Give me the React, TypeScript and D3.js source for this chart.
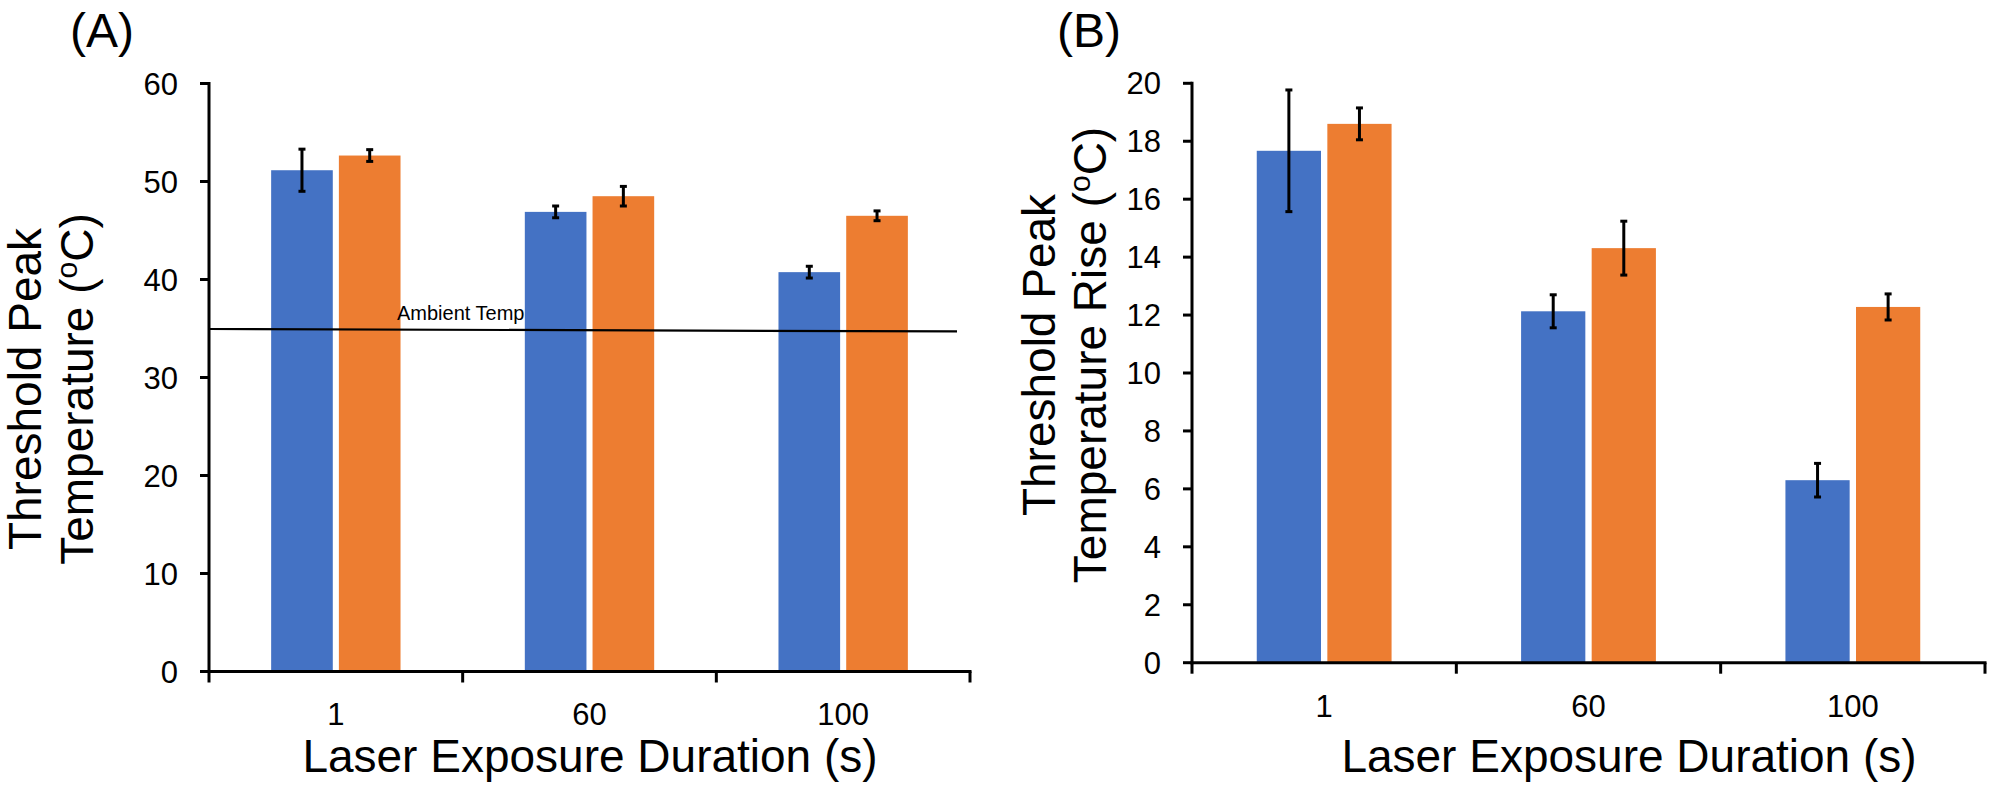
import React from "react";
import * as d3 from "d3";

// ---------- data ----------
const categories = ["1", "60", "100"];

const peakTempBlue = [51.15, 46.9, 40.75];
const peakTempBlueErr = [2.15, 0.6, 0.6];
const peakTempOrange = [52.65, 48.5, 46.5];
const peakTempOrangeErr = [0.6, 1.0, 0.5];
const ambientTemp = [34.95, 34.7]; // start / end of the ambient reference line

const riseBlue = [17.67, 12.13, 6.3];
const riseBlueErr = [2.1, 0.57, 0.58];
const riseOrange = [18.6, 14.31, 12.28];
const riseOrangeErr = [0.55, 0.93, 0.45];

const yTicksA = [0, 10, 20, 30, 40, 50, 60];
const yTicksB = [0, 2, 4, 6, 8, 10, 12, 14, 16, 18, 20];

// ---------- styles ----------
const BLUE = "#4472C4";
const ORANGE = "#ED7D31";
const FONT = "Arial, 'Liberation Sans', Helvetica, sans-serif";

type PanelProps = {
  label: string;
  labelX: number;
  x0: number;
  x1: number;
  yBottom: number;
  yTop: number;
  yMax: number;
  yTicks: number[];
  blue: number[];
  blueErr: number[];
  orange: number[];
  orangeErr: number[];
  yTitle: [string, string];
  yTitleX: [number, number];
  yTitleY: number;
  xTitleX: number;
  tickLabelDy: number;
  ambient?: number[];
};

function Panel(p: PanelProps) {
  const x = d3.scaleBand<string>().domain(categories).range([p.x0, p.x1]).padding(0);
  const y = d3.scaleLinear().domain([0, p.yMax]).range([p.yBottom, p.yTop]);
  const bw = x.bandwidth();
  const barW = bw * 0.243;
  const gap = bw * 0.024;
  const capW = 7;

  const bars: { cx: number; v: number; e: number; color: string; key: string }[] = [];
  categories.forEach((c, i) => {
    const center = (x(c) as number) + bw / 2;
    bars.push({ cx: center - gap / 2 - barW / 2, v: p.blue[i], e: p.blueErr[i], color: BLUE, key: "b" + c });
    bars.push({ cx: center + gap / 2 + barW / 2, v: p.orange[i], e: p.orangeErr[i], color: ORANGE, key: "o" + c });
  });

  const bounds = [...categories.map((c) => x(c) as number), p.x1];

  const ambLine =
    p.ambient &&
    d3
      .line<number>()
      .x((_, i) => (i === 0 ? p.x0 : p.x1 - 13))
      .y((d) => y(d))(p.ambient);

  const titleLine2 = p.yTitle[1];
  const supIdx = titleLine2.indexOf("(oC)");

  return (
    <g>
      <text x={p.labelX} y={47} fontSize={48} fontFamily={FONT} fill="#000">
        {p.label}
      </text>

      {/* bars */}
      {bars.map((b) => (
        <rect key={b.key} x={b.cx - barW / 2} y={y(b.v)} width={barW} height={y(0) - y(b.v)} fill={b.color} />
      ))}

      {/* ambient line */}
      {ambLine && (
        <g>
          <path d={ambLine} stroke="#000" strokeWidth={2.2} fill="none" />
          <text x={397} y={320} fontSize={20} fontFamily={FONT} fill="#000">
            Ambient Temp
          </text>
        </g>
      )}

      {/* error bars */}
      {bars.map((b) => (
        <g key={"e" + b.key} stroke="#000" strokeWidth={3}>
          <line x1={b.cx} x2={b.cx} y1={y(b.v + b.e)} y2={y(b.v - b.e)} />
          <line x1={b.cx - capW / 2} x2={b.cx + capW / 2} y1={y(b.v + b.e)} y2={y(b.v + b.e)} />
          <line x1={b.cx - capW / 2} x2={b.cx + capW / 2} y1={y(b.v - b.e)} y2={y(b.v - b.e)} />
        </g>
      ))}

      {/* y axis */}
      <line x1={p.x0} x2={p.x0} y1={y(p.yMax) - 1.5} y2={y(0) + 1.5} stroke="#000" strokeWidth={3} />
      {p.yTicks.map((t) => (
        <g key={"yt" + t}>
          <line x1={p.x0 - 9} x2={p.x0} y1={y(t)} y2={y(t)} stroke="#000" strokeWidth={3} />
          <text
            x={p.x0 - 31}
            y={y(t)}
            dy="0.36em"
            textAnchor="end"
            fontSize={31}
            fontFamily={FONT}
            fill="#000"
          >
            {t}
          </text>
        </g>
      ))}

      {/* x axis */}
      <line x1={p.x0 - 1.5} x2={p.x1 + 1.5} y1={y(0)} y2={y(0)} stroke="#000" strokeWidth={3} />
      {bounds.map((bx, i) => (
        <line key={"xt" + i} x1={bx} x2={bx} y1={y(0)} y2={y(0) + 11} stroke="#000" strokeWidth={3} />
      ))}
      {categories.map((c) => (
        <text
          key={"xl" + c}
          x={(x(c) as number) + bw / 2}
          y={y(0) + p.tickLabelDy}
          textAnchor="middle"
          fontSize={31}
          fontFamily={FONT}
          fill="#000"
        >
          {c}
        </text>
      ))}

      {/* x title */}
      <text x={p.xTitleX} y={772} textAnchor="middle" fontSize={46} fontFamily={FONT} fill="#000">
        Laser Exposure Duration (s)
      </text>

      {/* y title */}
      <text
        transform={`translate(${p.yTitleX[0]},${p.yTitleY}) rotate(-90)`}
        textAnchor="middle"
        fontSize={46}
        fontFamily={FONT}
        fill="#000"
      >
        {p.yTitle[0]}
      </text>
      <text
        transform={`translate(${p.yTitleX[1]},${p.yTitleY}) rotate(-90)`}
        textAnchor="middle"
        fontSize={46}
        fontFamily={FONT}
        fill="#000"
      >
        {titleLine2.slice(0, supIdx + 1)}
        <tspan fontSize={30} dy={-16}>
          o
        </tspan>
        <tspan dy={16}>{titleLine2.slice(supIdx + 2)}</tspan>
      </text>
    </g>
  );
}

export default function App() {
  return (
    <svg
      width={1994}
      height={786}
      viewBox="0 0 1994 786"
      style={{ position: "absolute", left: 0, top: 0, background: "#fff" }}
    >
      <rect width={1994} height={786} fill="#fff" />
      <Panel
        label="(A)"
        labelX={70}
        x0={209}
        x1={970}
        yBottom={671.5}
        yTop={83.5}
        yMax={60}
        yTicks={yTicksA}
        blue={peakTempBlue}
        blueErr={peakTempBlueErr}
        orange={peakTempOrange}
        orangeErr={peakTempOrangeErr}
        yTitle={["Threshold Peak", "Temperature (oC)"]}
        yTitleX={[41, 93]}
        yTitleY={389}
        xTitleX={590}
        tickLabelDy={53}
        ambient={ambientTemp}
      />
      <Panel
        label="(B)"
        labelX={1057}
        x0={1192}
        x1={1985}
        yBottom={662.7}
        yTop={83.3}
        yMax={20}
        yTicks={yTicksB}
        blue={riseBlue}
        blueErr={riseBlueErr}
        orange={riseOrange}
        orangeErr={riseOrangeErr}
        yTitle={["Threshold Peak", "Temperature Rise (oC)"]}
        yTitleX={[1055, 1106]}
        yTitleY={355}
        xTitleX={1629}
        tickLabelDy={54}
      />
    </svg>
  );
}
